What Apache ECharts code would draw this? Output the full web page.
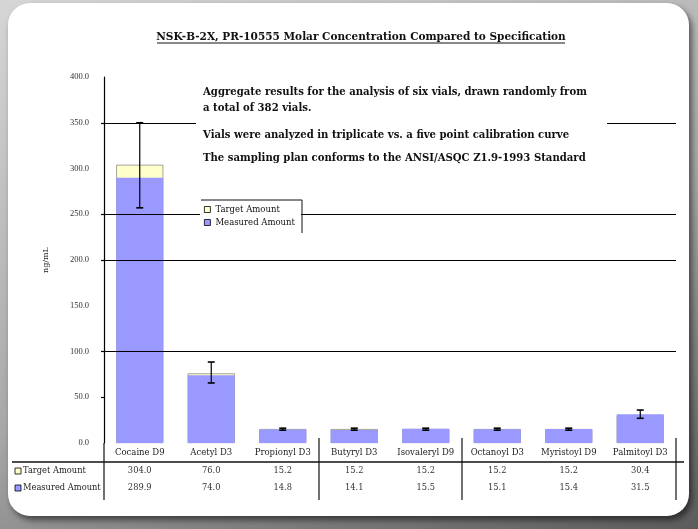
<!DOCTYPE html>
<html><head><meta charset="utf-8">
<script src="https://cdn.jsdelivr.net/npm/echarts@6/dist/echarts.min.js"></script>
<style>
html,body{margin:0;padding:0;width:698px;height:529px;overflow:hidden;background:linear-gradient(160deg,#d6d6d6 0%,#a8a8a8 55%,#5c5c5c 100%);}
#panel{position:absolute;left:8px;top:3px;width:681px;height:513px;background:#fff;border-radius:22px;box-shadow:3px 4px 6px rgba(0,0,0,0.55);}
#chart{position:absolute;left:0;top:0;width:698px;height:529px;}
</style></head><body><div id="panel"></div><div id="chart"></div>
<script>
// ---- data ----
const categories = ['Cocaine D9', 'Acetyl D3', 'Propionyl D3', 'Butyryl D3', 'Isovaleryl D9', 'Octanoyl D3', 'Myristoyl D9', 'Palmitoyl D3'];
const targetAmount = [304.0, 76.0, 15.2, 15.2, 15.2, 15.2, 15.2, 30.4];
const measuredAmount = [289.9, 74.0, 14.8, 14.1, 15.5, 15.1, 15.4, 31.5];
const errLow = [257.0, 65.6, 14.0, 14.0, 14.0, 14.0, 14.0, 27.0];
const errHigh = [350.0, 88.5, 16.2, 16.2, 16.2, 16.2, 16.2, 36.0];
const gridValues = [100, 200, 250, 350];
const tickValues = [50, 100, 200, 250, 350];
const seriesNames = ['Target Amount', 'Measured Amount'];
const titleText = 'NSK-B-2X, PR-10555 Molar Concentration Compared to Specification';
const noteLines = [
  'Aggregate results for the analysis of six vials, drawn randomly from',
  'a total of 382 vials.',
  'Vials were analyzed in triplicate vs. a five point calibration curve',
  'The sampling plan conforms to the ANSI/ASQC Z1.9-1993 Standard'
];
const yAxisName = 'ng/mL';

const BLUE = '#9999ff', YELLOW = '#ffffcc';
const SERIF = '"DejaVu Serif", serif';
const TSERIF = '"Liberation Serif", serif';

const chart = echarts.init(document.getElementById('chart'));
const noteY = [92, 108, 135, 158];

const option = {
  animation: false,
  grid: {left: 104, right: 22, top: 77, bottom: 86, containLabel: false},
  legend: {
    data: seriesNames.map(n => ({name: n, icon: 'rect'})), orient: 'vertical', left: 200, top: 201,
    itemWidth: 6, itemHeight: 6, itemGap: 4, backgroundColor: '#fff',
    padding: [4, 6, 4, 4],
    itemStyle: {borderColor: '#000', borderWidth: 0.8},
    textStyle: {fontFamily: SERIF, fontSize: 8.5, color: '#111'},
    z: 20
  },
  xAxis: [
    {type: 'category', data: categories, axisLine: {show: false}, axisTick: {show: false},
     axisLabel: {interval: 0, fontFamily: SERIF, fontSize: 8.5, color: '#222', margin: 5}},
    {type: 'category', data: targetAmount.map(v => v.toFixed(1)), position: 'bottom', offset: 22,
     axisLine: {show: false}, axisTick: {show: false},
     axisLabel: {interval: 0, fontFamily: SERIF, fontSize: 8.3, color: '#333', margin: 2}},
    {type: 'category', data: measuredAmount.map(v => v.toFixed(1)), position: 'bottom', offset: 39,
     axisLine: {show: false}, axisTick: {show: false},
     axisLabel: {interval: 0, fontFamily: SERIF, fontSize: 8.3, color: '#333', margin: 2}}
  ],
  yAxis: {
    type: 'value', min: 0, max: 400, interval: 50,
    name: yAxisName, nameLocation: 'middle', nameGap: 54, nameRotate: 90,
    nameTextStyle: {fontFamily: SERIF, fontSize: 8, color: '#222'},
    axisLine: {show: true, lineStyle: {color: '#000', width: 1.2}},
    axisTick: {show: true, length: 3, customValues: tickValues, lineStyle: {color: '#000', width: 1.2}},
    axisLabel: {formatter: v => v.toFixed(1), fontFamily: TSERIF, fontSize: 8.5, color: '#333', margin: 15},
    splitLine: {show: false}
  },
  series: [
    {type: 'line', data: [], z: 1, silent: true,
     markLine: {silent: true, symbol: 'none', label: {show: false},
       lineStyle: {color: '#000', width: 1.2, type: 'solid'},
       data: gridValues.map(v => ({yAxis: v}))}},
    {name: seriesNames[0], type: 'bar', data: targetAmount, barWidth: 47, barGap: '-100%', z: 2,
     itemStyle: {color: YELLOW, borderColor: '#666', borderWidth: 0.6}},
    {name: seriesNames[1], type: 'bar', data: measuredAmount, barWidth: 47, barGap: '-100%', z: 3,
     itemStyle: {color: BLUE}},
    {type: 'custom', z: 5, silent: true,
     data: categories.map((c, i) => [i, errLow[i], errHigh[i]]),
     encode: {x: 0, y: [1, 2]},
     renderItem: function (params, api) {
       const i = api.value(0);
       const lo = api.coord([i, api.value(1)]);
       const hi = api.coord([i, api.value(2)]);
       const hw = 3.5;
       const st = {stroke: '#000', lineWidth: 1.2};
       return {type: 'group', children: [
         {type: 'line', shape: {x1: lo[0], y1: lo[1], x2: hi[0], y2: hi[1]}, style: st},
         {type: 'line', shape: {x1: lo[0] - hw, y1: lo[1], x2: lo[0] + hw, y2: lo[1]}, style: {stroke: '#000', lineWidth: 1.6}},
         {type: 'line', shape: {x1: hi[0] - hw, y1: hi[1], x2: hi[0] + hw, y2: hi[1]}, style: {stroke: '#000', lineWidth: 1.6}}
       ]};
     }}
  ],
  graphic: [
    {type: 'text', x: 361, y: 37, z: 30, style: {text: titleText, fill: '#111', font: 'bold 10.5px ' + SERIF, textAlign: 'center', textVerticalAlign: 'middle'}},
    {type: 'line', z: 30, shape: {x1: 157, y1: 43, x2: 565, y2: 43}, style: {stroke: '#111', lineWidth: 1}},
    {type: 'rect', z: 25, shape: {x: 196, y: 80, width: 411, height: 88}, style: {fill: '#fff'}},
    ...noteLines.map((t, k) => ({type: 'text', z: 30, x: 203, y: noteY[k],
      style: {text: t, fill: '#111', font: 'bold 10.1px ' + SERIF, textVerticalAlign: 'middle'}})),
    // legend frame (top & right edges)
    {type: 'line', z: 30, shape: {x1: 201, y1: 200, x2: 302, y2: 200}, style: {stroke: '#111', lineWidth: 1}},
    {type: 'line', z: 30, shape: {x1: 302, y1: 200, x2: 302, y2: 233}, style: {stroke: '#111', lineWidth: 1}},
    // table lines
    {type: 'line', z: 30, shape: {x1: 12, y1: 462, x2: 684, y2: 462}, style: {stroke: '#111', lineWidth: 1.6}},
    {type: 'line', z: 30, shape: {x1: 104, y1: 443, x2: 104, y2: 500}, style: {stroke: '#111', lineWidth: 1.2}},
    {type: 'line', z: 30, shape: {x1: 319, y1: 438, x2: 319, y2: 500}, style: {stroke: '#111', lineWidth: 1.2}},
    {type: 'line', z: 30, shape: {x1: 462, y1: 438, x2: 462, y2: 500}, style: {stroke: '#111', lineWidth: 1.2}},
    {type: 'line', z: 30, shape: {x1: 676, y1: 438, x2: 676, y2: 500}, style: {stroke: '#111', lineWidth: 1.2}},
    // table row headers
    {type: 'rect', z: 30, shape: {x: 15, y: 468, width: 6, height: 6}, style: {fill: YELLOW, stroke: '#000', lineWidth: 0.8}},
    {type: 'text', z: 30, x: 23, y: 471, style: {text: seriesNames[0], fill: '#222', font: '8.3px ' + SERIF, textVerticalAlign: 'middle'}},
    {type: 'rect', z: 30, shape: {x: 15, y: 485, width: 6, height: 6}, style: {fill: BLUE, stroke: '#000', lineWidth: 0.8}},
    {type: 'text', z: 30, x: 23, y: 488, style: {text: seriesNames[1], fill: '#222', font: '8.3px ' + SERIF, textVerticalAlign: 'middle'}}
  ]
};
chart.setOption(option);
</script></body></html>
